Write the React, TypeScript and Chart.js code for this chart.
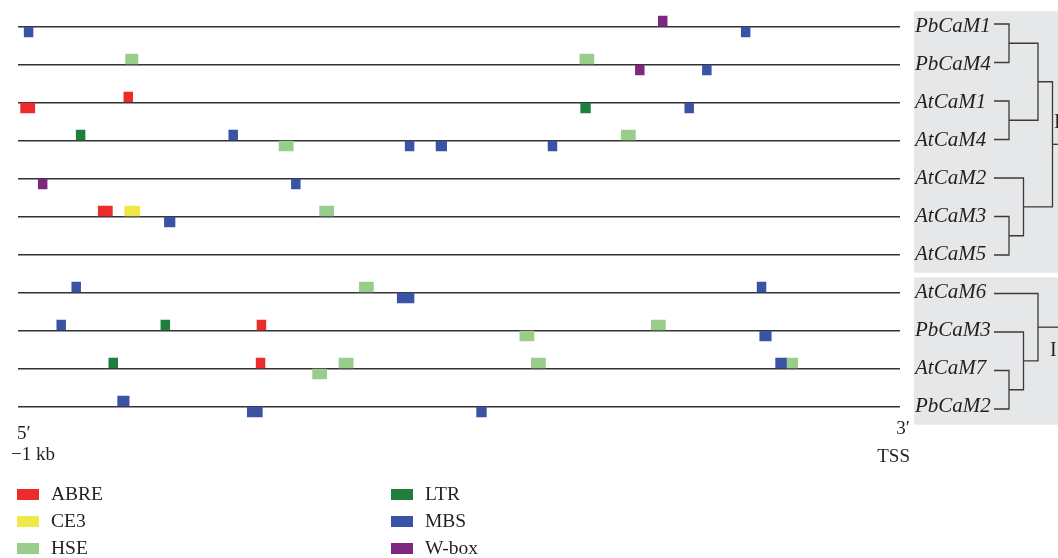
import React, { useEffect, useRef } from 'react';
import { Chart, registerables } from 'chart.js';

Chart.register(...registerables);

// ---------- data ----------
const genes = [
  'PbCaM1', 'PbCaM4', 'AtCaM1', 'AtCaM4', 'AtCaM2', 'AtCaM3',
  'AtCaM5', 'AtCaM6', 'PbCaM3', 'AtCaM7', 'PbCaM2',
];

// [gene index, start (bp), end (bp), strand: '+' drawn above the line, '-' below]
type Site = [number, number, number, '+' | '-'];

const abreSites: Site[] = [
  [2, -997, -981, '-'], [2, -880, -870, '+'], [5, -909, -893, '+'],
  [8, -729, -719, '+'], [9, -730, -720, '+'],
];
const ce3Sites: Site[] = [[5, -879, -862, '+']];
const hseSites: Site[] = [
  [1, -878, -864, '+'], [1, -363, -347, '+'], [3, -704, -688, '-'],
  [3, -316, -300, '+'], [5, -658, -642, '+'], [7, -613, -597, '+'],
  [8, -431, -415, '-'], [8, -282, -266, '+'], [9, -666, -650, '-'],
  [9, -636, -620, '+'], [9, -418, -402, '+'], [9, -128, -116, '+'],
];
const ltrSites: Site[] = [
  [2, -362, -351, '-'], [3, -934, -924, '+'], [8, -838, -828, '+'],
  [9, -897, -887, '+'],
];
const mbsSites: Site[] = [
  [0, -993, -983, '-'], [0, -180, -170, '-'], [1, -224, -214, '-'],
  [2, -244, -234, '-'], [3, -761, -751, '+'], [3, -561, -551, '-'],
  [3, -526, -514, '-'], [3, -399, -389, '-'], [4, -690, -680, '-'],
  [5, -834, -822, '-'], [7, -939, -929, '+'], [7, -570, -551, '-'],
  [7, -162, -152, '+'], [8, -956, -946, '+'], [8, -159, -146, '-'],
  [9, -141, -128, '+'], [10, -887, -874, '+'], [10, -740, -723, '-'],
  [10, -480, -469, '-'],
];
const wboxSites: Site[] = [
  [0, -274, -264, '+'], [1, -300, -290, '-'], [4, -977, -967, '-'],
];

const elementNames = ['ABRE', 'CE3', 'HSE', 'LTR', 'MBS', 'W-box'];
const elementSites = [abreSites, ce3Sites, hseSites, ltrSites, mbsSites, wboxSites];

const startLabel = ['5\u2032', '\u22121 kb'];
const endLabel = ['3\u2032', 'TSS'];
const cladeNames = ['II', 'I'];

// dendrogram: h = branch level, c = children (numbers are gene indices)
type TreeNode = number | { h: number; c: [TreeNode, TreeNode] };
const cladeII: TreeNode = {
  h: 4,
  c: [
    { h: 3, c: [{ h: 1, c: [0, 1] }, { h: 1, c: [2, 3] }] },
    { h: 2, c: [4, { h: 1, c: [5, 6] }] },
  ],
};
const cladeI: TreeNode = { h: 3, c: [7, { h: 2, c: [8, { h: 1, c: [9, 10] }] }] };
const clades = [cladeII, cladeI];
// gene ranges covered by each grey panel
const panelRanges: [number, number][] = [[0, 6], [7, 10]];

// ---------- styles ----------
const elementColors = ['#ED2B2A', '#EEE946', '#99CD8C', '#1F7E3B', '#3A53A4', '#7E2780'];
const TEXT = '#231f20';
const SERIF = "'Liberation Serif', 'Times New Roman', serif";
const BOX_PX = 10;

const overlayPlugin = {
  id: 'overlay',
  beforeDraw(chart: any) {
    const { ctx, chartArea, scales } = chart;
    const y = scales.y;
    const right = chartArea.right;
    ctx.save();
    // grey panels
    ctx.fillStyle = '#e6e7e8';
    panelRanges.forEach(([a, b]) => {
      const top = y.getPixelForValue(a - 0.4);
      const bot = y.getPixelForValue(b + 0.48);
      ctx.fillRect(right + 14, top, chart.width - right - 14, bot - top);
    });
    // dendrogram
    const leafX = right + 94;
    const xOf = (h: number) => right + 109 + (h - 1) * 14.5;
    const leafY = (i: number) => y.getPixelForValue(i) + (i - 5) * 0.5;
    ctx.strokeStyle = '#3a3a3a';
    ctx.lineWidth = 1.3;
    ctx.lineJoin = 'miter';
    const drawNode = (n: TreeNode): { x: number; y: number } => {
      if (typeof n === 'number') return { x: leafX, y: leafY(n) };
      const a = drawNode(n.c[0]);
      const b = drawNode(n.c[1]);
      const X = xOf(n.h);
      ctx.beginPath();
      ctx.moveTo(a.x, a.y);
      ctx.lineTo(X, a.y);
      ctx.lineTo(X, b.y);
      ctx.lineTo(b.x, b.y);
      ctx.stroke();
      return { x: X, y: (a.y + b.y) / 2 };
    };
    clades.forEach((c) => {
      const r = drawNode(c);
      ctx.beginPath();
      ctx.moveTo(r.x, r.y);
      ctx.lineTo(chart.width, r.y);
      ctx.stroke();
    });
    ctx.restore();
  },
  afterDraw(chart: any) {
    const { ctx, chartArea } = chart;
    const { left, right, bottom } = chartArea;
    ctx.save();
    ctx.fillStyle = TEXT;
    ctx.textBaseline = 'alphabetic';
    // clade labels
    ctx.font = `20px ${SERIF}`;
    ctx.textAlign = 'left';
    ctx.fillText(cladeNames[0], right + 154, 128);
    ctx.fillText(cladeNames[1], right + 150, 356);
    // 5' / 3' ends
    ctx.font = `19px ${SERIF}`;
    ctx.textAlign = 'left';
    ctx.fillText(startLabel[0], left - 1, bottom + 13.5);
    ctx.fillText(startLabel[1], left - 7, bottom + 34.5);
    ctx.textAlign = 'right';
    ctx.fillText(endLabel[0], right + 10, bottom + 8);
    ctx.fillText(endLabel[1], right + 10, bottom + 36.5);
    // legend (two columns of three)
    ctx.font = `19.5px ${SERIF}`;
    ctx.textAlign = 'left';
    elementNames.forEach((name, k) => {
      const col = Math.floor(k / 3);
      const row = k % 3;
      const sx = left - 1 + col * 374;
      const base = bottom + 74.5 + row * 27;
      ctx.fillStyle = elementColors[k];
      ctx.fillRect(sx, base - 11, 22, 11);
      ctx.fillStyle = TEXT;
      ctx.fillText(name, sx + 34, base);
    });
    ctx.restore();
  },
};

export default function App() {
  const ref = useRef<HTMLCanvasElement | null>(null);

  useEffect(() => {
    if (!ref.current) return;
    Chart.defaults.font.family = SERIF;
    const rowPx = 38;
    const shift = (BOX_PX / 2 + 0.5) / rowPx;
    const chart = new Chart(ref.current, {
      type: 'bar',
      data: {
        datasets: elementNames.map((name, k) => ({
          label: name,
          data: elementSites[k].map(([g, s, e, strand]) => ({
            x: [s, e],
            y: g + (strand === '+' ? -shift : shift),
          })),
          backgroundColor: elementColors[k],
          borderWidth: 0,
          barThickness: BOX_PX,
          maxBarThickness: BOX_PX,
          grouped: false,
        })) as any,
      },
      options: {
        indexAxis: 'y',
        animation: false,
        responsive: true,
        maintainAspectRatio: false,
        events: [],
        layout: { padding: { left: 18, right: 0, top: 7.5, bottom: 132.5 } },
        plugins: {
          legend: { display: false },
          tooltip: { enabled: false },
        },
        scales: {
          x: { type: 'linear', min: -1000, max: 0, display: false, offset: false },
          y: {
            type: 'linear',
            position: 'right',
            reverse: true,
            offset: false,
            min: -0.5,
            max: 10.5,
            afterBuildTicks: (axis: any) => {
              axis.ticks = genes.map((_, i) => ({ value: i }));
            },
            afterFit: (axis: any) => {
              axis.width = 158;
              axis.paddingTop = 0;
              axis.paddingBottom = 0;
            },
            border: { display: false },
            grid: { color: '#333333', lineWidth: 1.6, drawTicks: false, offset: false },
            ticks: {
              autoSkip: false,
              padding: 15,
              color: TEXT,
              font: { family: SERIF, style: 'italic', size: 21 },
              callback: (v: any) => genes[Math.round(Number(v))] ?? '',
            },
          },
        },
      } as any,
      plugins: [overlayPlugin],
    });
    return () => chart.destroy();
  }, []);

  return (
    <div style={{ position: 'fixed', left: 0, top: 0, width: 1058, height: 558, background: '#fff' }}>
      <canvas ref={ref} />
    </div>
  );
}
